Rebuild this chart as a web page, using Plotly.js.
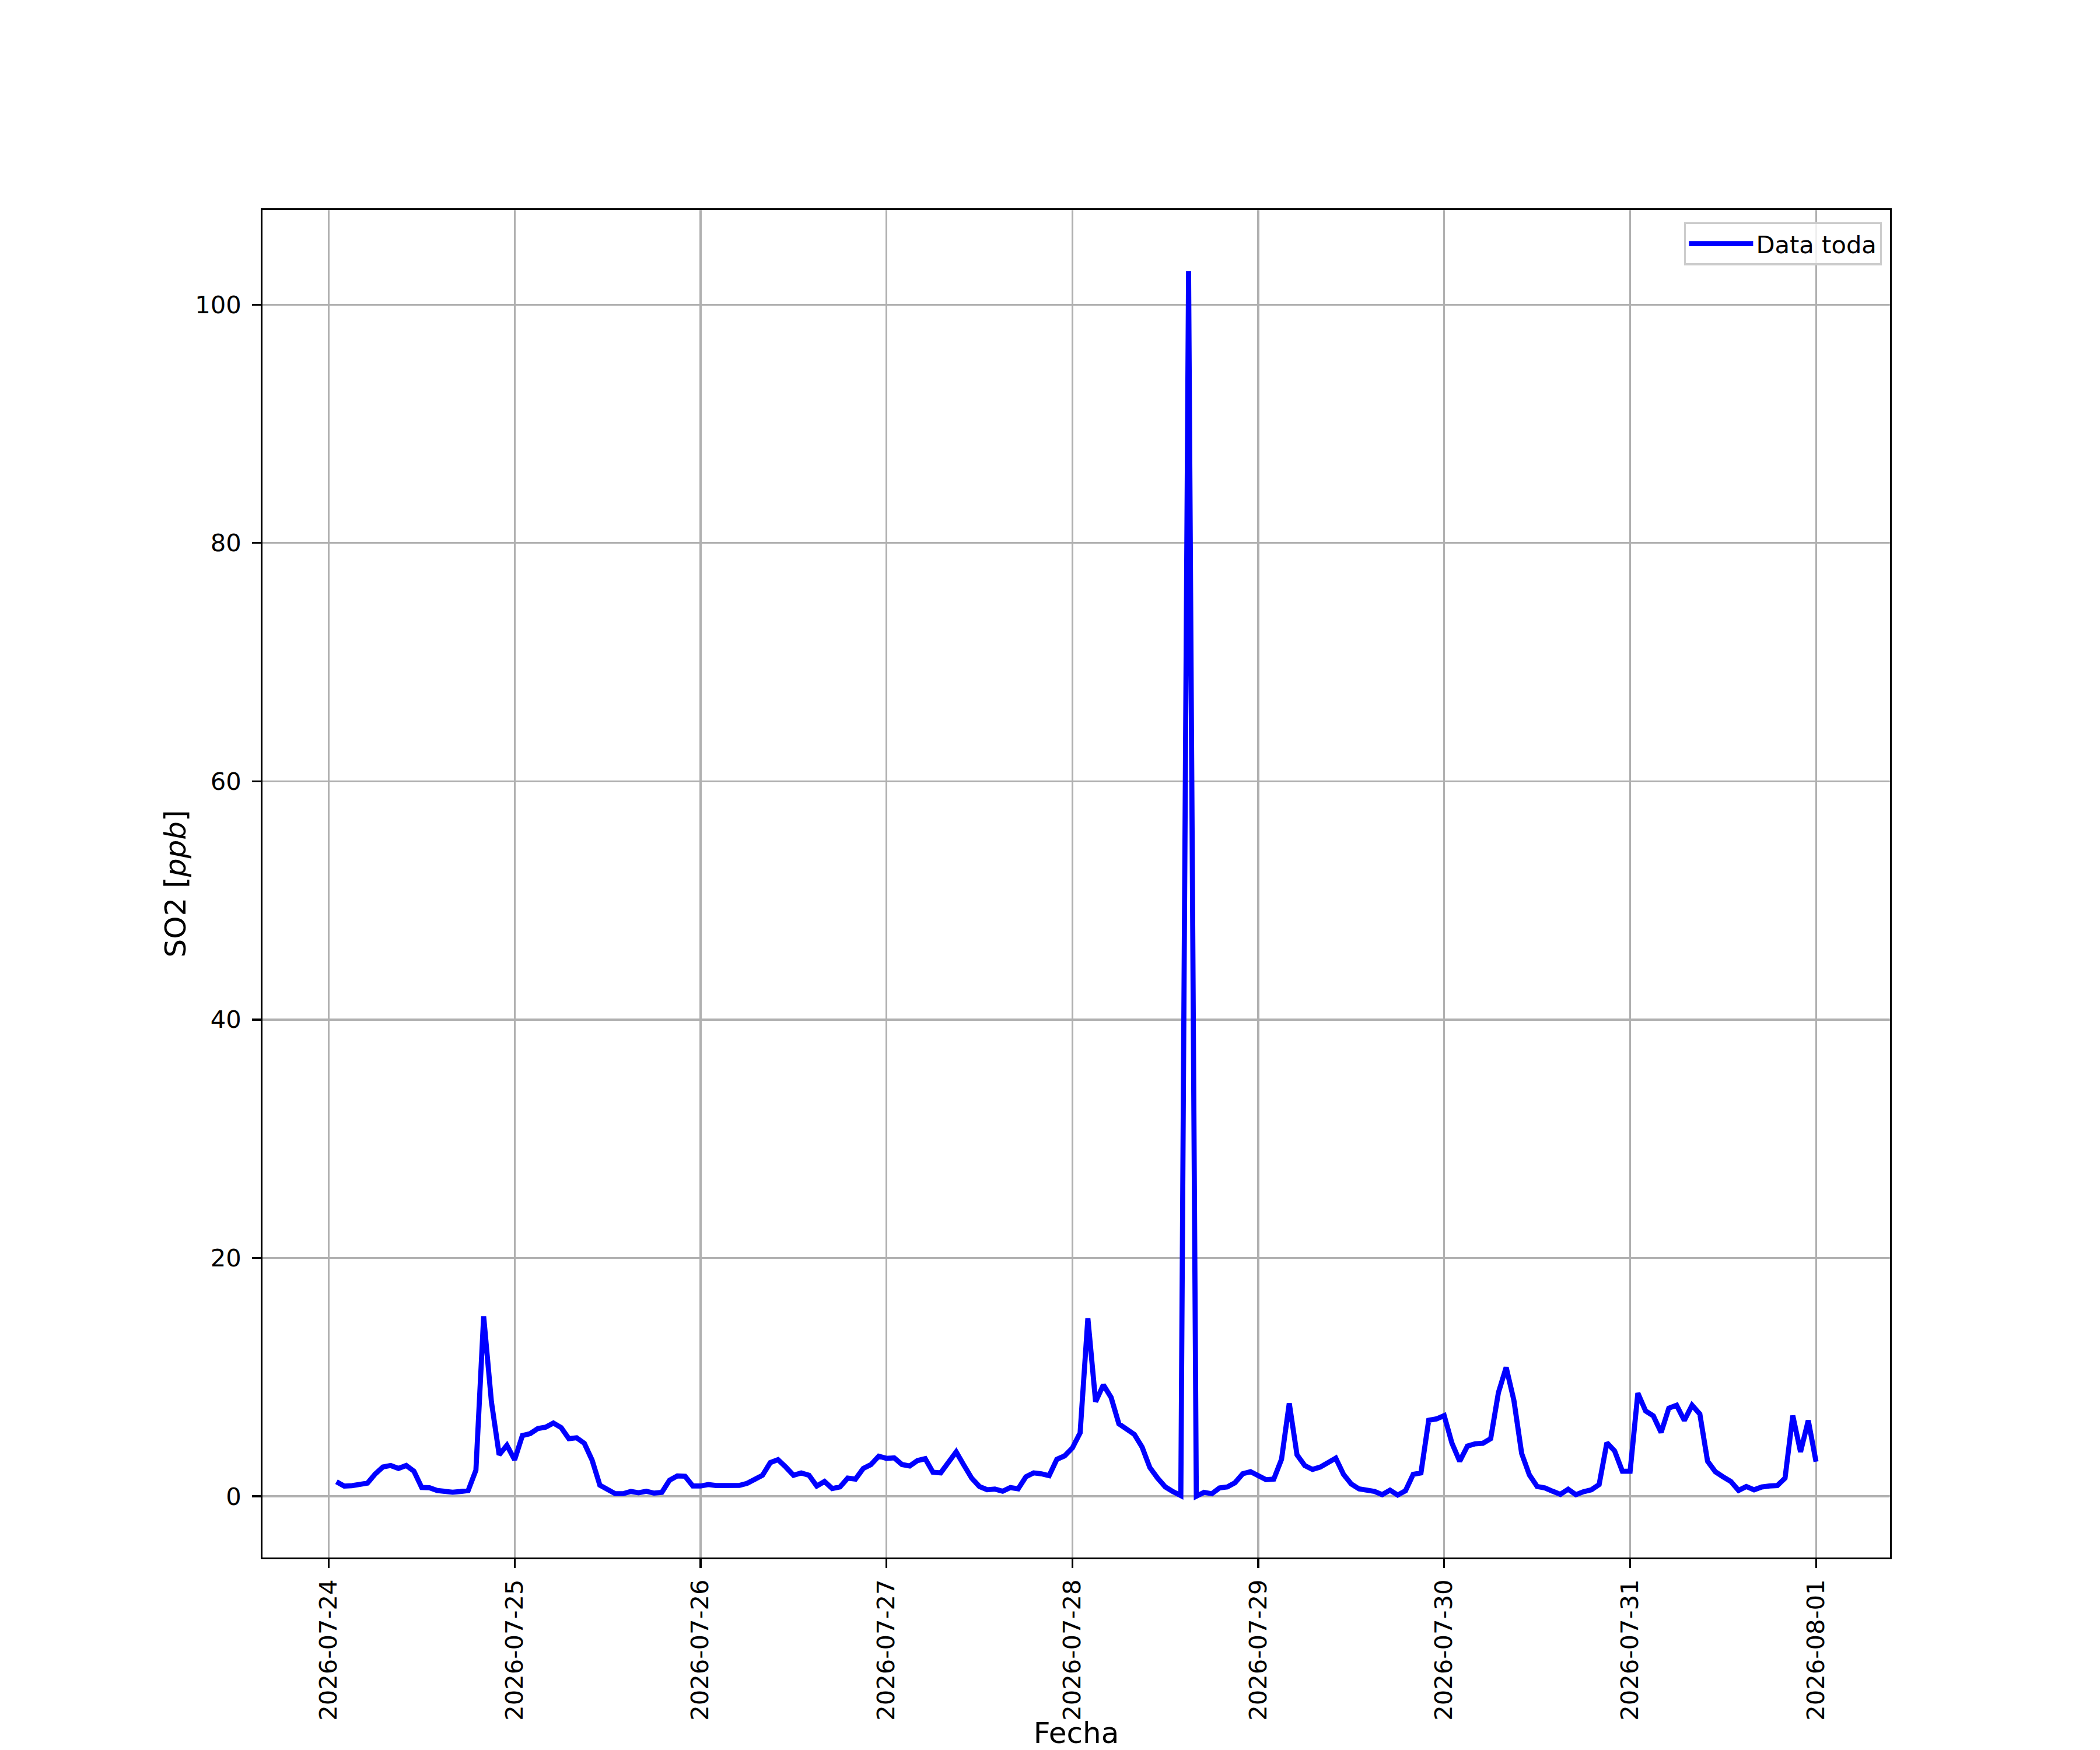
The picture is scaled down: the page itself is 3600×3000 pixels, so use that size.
<!DOCTYPE html>
<html>
<head>
<meta charset="utf-8">
<script src="https://cdn.plot.ly/plotly-3.0.1.min.js"></script>
<style>html,body{margin:0;padding:0;background:#ffffff;}</style>
</head>
<body>
<div id="chart" style="width:3600px;height:3000px;"></div>
<script>
// ---- data (hourly SO2 readings, ppb) ----
const startTime = '2026-07-24T01:00:00';   // first reading, one reading per hour
const seriesName = 'Data toda';
const xTitle = 'Fecha';
const yTitle = 'SO2 [<i>ppb</i>]';
const xTickFormat = '%Y-%m-%d';
const yTickVals = [0, 20, 40, 60, 80, 100];

const day1 = [1.22, 0.85, 0.89, 0.97, 1.10, 1.87, 2.46, 2.58, 2.33, 2.58, 2.10, 0.74,
              0.72, 0.48, 0.42, 0.34, 0.40, 0.48, 2.19, 15.10, 7.94, 3.48, 4.28, 3.06];
const day2 = [5.09, 5.25, 5.68, 5.80, 6.14, 5.76, 4.83, 4.91, 4.44, 3.03, 0.93, 0.53,
              0.21, 0.21, 0.40, 0.29, 0.42, 0.26, 0.32, 1.35, 1.71, 1.68, 0.86, 0.86];
const day3 = [0.98, 0.90, 0.91, 0.98, 0.91, 1.08, 1.39, 1.76, 2.82, 3.07, 2.45, 1.76,
              1.96, 1.76, 0.86, 1.24, 0.65, 0.78, 1.52, 1.44, 2.33, 2.66, 3.36, 3.18];
const day4 = [3.22, 2.66, 2.54, 2.99, 3.15, 2.01, 1.96, 2.82, 3.72, 2.60, 1.52, 0.82,
              0.55, 0.60, 0.42, 0.73, 0.62, 1.63, 1.96, 1.88, 1.73, 3.10, 3.39, 4.05];
const day5 = [5.32, 14.94, 7.93, 9.35, 8.29, 6.08, 5.60, 5.19, 4.13, 2.41, 1.52, 0.78,
              0.38, 0.05, 102.8, 0.00, 0.33, 0.21, 0.70, 0.78, 1.14, 1.89, 2.06, 1.76];
const day6 = [1.39, 1.44, 3.10, 7.80, 3.47, 2.58, 2.25, 2.45, 2.87, 3.20, 1.84, 1.03,
              0.62, 0.46, 0.41, 0.13, 0.51, 0.10, 0.46, 1.84, 1.96, 6.38, 6.49, 6.77];
const day7 = [4.45, 2.94, 4.21, 4.40, 4.45, 4.83, 8.70, 10.82, 8.04, 3.59, 1.79, 0.82,
              0.70, 0.42, 0.16, 0.59, 0.13, 0.38, 0.54, 0.98, 4.49, 3.80, 2.10, 2.10];
const day8 = [8.65, 7.16, 6.74, 5.35, 7.39, 7.64, 6.36, 7.64, 6.90, 2.94, 2.06, 1.63,
              1.24, 0.49, 0.82, 0.54, 0.78, 0.86, 0.90, 1.52, 6.77, 3.72, 6.36, 2.90];

// ---- build series ----
const values = [].concat(day1, day2, day3, day4, day5, day6, day7, day8);
const HOUR = 3600000;
const t0 = Date.parse(startTime + 'Z');
const fmt = ms => new Date(ms).toISOString().slice(0, 19).replace('T', ' ');
const times = values.map((_, i) => fmt(t0 + i * HOUR));

// matplotlib-style 5% data margins
const tFirst = t0, tLast = t0 + (values.length - 1) * HOUR;
const tPad = (tLast - tFirst) * 0.05;
const vMin = Math.min(...values), vMax = Math.max(...values);
const vPad = (vMax - vMin) * 0.05;

const FONT = 'DejaVu Sans, Liberation Sans, sans-serif';
const PT = 300 / 72; // px per point

const trace = {
  type: 'scatter',
  mode: 'lines',
  x: times,
  y: values,
  name: seriesName,
  showlegend: true,
  line: { color: '#0000ff', width: 2.1 * PT, shape: 'linear' }
};

const axisCommon = {
  showline: true, mirror: true, linecolor: '#000000', linewidth: 0.8 * PT,
  ticks: 'outside', ticklen: 3.5 * PT, tickwidth: 0.8 * PT, tickcolor: '#000000',
  showgrid: true, gridcolor: '#b0b0b0', gridwidth: 0.8 * PT,
  zeroline: false,
  tickfont: { family: FONT, size: 10 * PT, color: '#000000' },
  automargin: false
};

const layout = {
  width: 3600, height: 3000,
  margin: { l: 450, r: 360, t: 360, b: 330, pad: 0 },
  paper_bgcolor: '#ffffff', plot_bgcolor: '#ffffff',
  font: { family: FONT, color: '#000000' },
  xaxis: Object.assign({}, axisCommon, {
    type: 'date',
    range: [fmt(tFirst - tPad), fmt(tLast + tPad)],
    tick0: '2026-07-24', dtick: 86400000,
    tickformat: xTickFormat, tickangle: -90,
    ticklabelstandoff: 3,
    title: { text: xTitle, font: { family: FONT, size: 12 * PT, color: '#000000' }, standoff: 32 }
  }),
  yaxis: Object.assign({}, axisCommon, {
    range: [vMin - vPad, vMax + vPad],
    tickmode: 'array', tickvals: yTickVals, ticktext: yTickVals.map(String),
    ticklabelstandoff: 10,
    title: { text: yTitle, font: { family: FONT, size: 12 * PT, color: '#000000' }, standoff: 0 }
  }),
  legend: {
    x: 0.995, y: 0.991, xanchor: 'right', yanchor: 'top',
    bgcolor: 'rgba(255,255,255,0.8)', bordercolor: '#cccccc', borderwidth: 0.8 * PT,
    font: { family: FONT, size: 10 * PT, color: '#000000' },
    itemwidth: 110
  }
};

Plotly.newPlot('chart', [trace], layout, { displayModeBar: false, staticPlot: true });
</script>
</body>
</html>
